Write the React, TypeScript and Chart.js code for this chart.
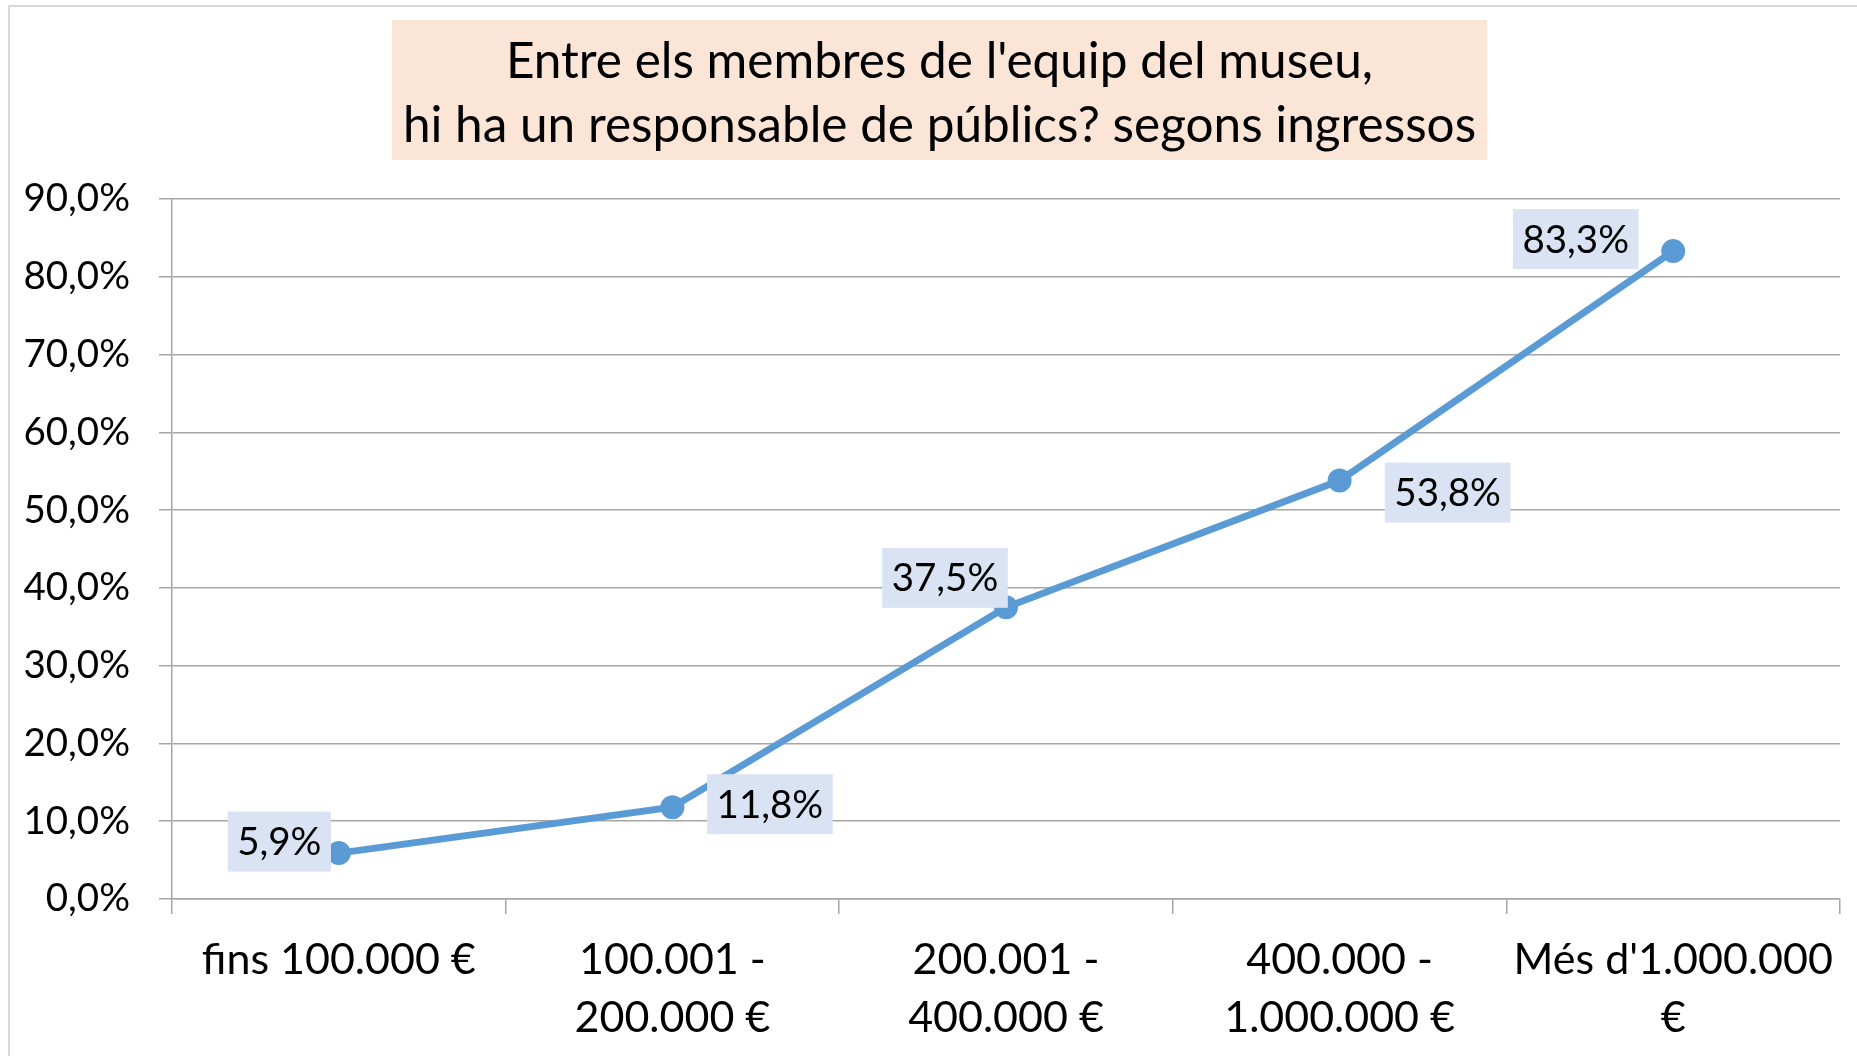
import { useEffect, useRef } from "react";
import { Chart, registerables } from "chart.js";

Chart.register(...registerables);

const categories: string[][] = [
  ["fins 100.000 €"],
  ["100.001 -", "200.000 €"],
  ["200.001 -", "400.000 €"],
  ["400.000 -", "1.000.000 €"],
  ["Més d'1.000.000", "€"],
];
const values: number[] = [5.9, 11.8, 37.5, 53.8, 83.3];
const titleLines: string[] = [
  "Entre els membres de l'equip del museu,",
  "hi ha un responsable de públics? segons ingressos",
];
const yMin = 0;
const yMax = 90;
const yStep = 10;

// label placement (relative to the point, in px)
const labelOffsets: number[][] = [
  [-59.5, -11.5],
  [97.5, -3],
  [-61, -29.5],
  [108, 12],
  [-97.5, -12],
];

const FONT = "Lato, 'Open Sans', sans-serif";
const FS = 38.5;
const FS_X = 43;
const FS_TITLE = 49.5;
const LINE_COLOR = "#5B9BD5";
const GRID = "#A6A6A6";

const fmt = (v: number) => v.toFixed(1).replace(".", ",") + "%";

const W = 1857;
const H = 1056;

const framePlugin = {
  id: "frame",
  beforeDraw(chart: any) {
    const ctx = chart.ctx;
    ctx.save();
    ctx.fillStyle = "#ffffff";
    ctx.fillRect(0, 0, W, H);
    ctx.strokeStyle = "#D9D9D9";
    ctx.lineWidth = 2;
    ctx.beginPath();
    ctx.moveTo(9, H + 10);
    ctx.lineTo(9, 6);
    ctx.lineTo(W + 10, 6);
    ctx.stroke();
    // title box
    ctx.fillStyle = "#FBE5D6";
    ctx.fillRect(392, 20, 1095, 140);
    ctx.fillStyle = "#000000";
    ctx.font = `${FS_TITLE}px ${FONT}`;
    ctx.textAlign = "center";
    ctx.textBaseline = "middle";
    const cx = 392 + 1095 / 2;
    ctx.fillText(titleLines[0], cx, 62);
    ctx.fillText(titleLines[1], cx, 126);
    ctx.restore();
  },
};

const labelPlugin = {
  id: "pointLabels",
  afterDatasetsDraw(chart: any) {
    const ctx = chart.ctx;
    const meta = chart.getDatasetMeta(0);
    ctx.save();
    ctx.font = `${FS}px ${FONT}`;
    ctx.textAlign = "center";
    ctx.textBaseline = "middle";
    meta.data.forEach((pt: any, i: number) => {
      const txt = fmt(values[i]);
      const tw = ctx.measureText(txt).width;
      const bw = tw + 19;
      const bh = 60;
      const cx = pt.x + labelOffsets[i][0];
      const cy = pt.y + labelOffsets[i][1];
      ctx.fillStyle = "#DAE3F3";
      ctx.fillRect(cx - bw / 2, cy - bh / 2, bw, bh);
      ctx.fillStyle = "#000000";
      ctx.fillText(txt, cx, cy + 1);
    });
    ctx.restore();
  },
};

export default function App() {
  const ref = useRef<HTMLCanvasElement | null>(null);

  useEffect(() => {
    if (!ref.current) return;
    const chart = new Chart(ref.current, {
      type: "line",
      data: {
        labels: categories,
        datasets: [
          {
            data: values,
            borderColor: LINE_COLOR,
            backgroundColor: LINE_COLOR,
            borderWidth: 7,
            pointRadius: 12,
            pointHoverRadius: 12,
            pointBorderWidth: 0,
            pointBackgroundColor: LINE_COLOR,
            tension: 0,
            fill: false,
          },
        ],
      },
      options: {
        animation: false,
        responsive: false,
        devicePixelRatio: 1,
        events: [],
        layout: { padding: { top: 199, left: 0, right: 17, bottom: 0 } },
        plugins: {
          legend: { display: false },
          title: { display: false },
          tooltip: { enabled: false },
        },
        scales: {
          x: {
            type: "category",
            offset: true,
            grid: {
              offset: true,
              drawOnChartArea: false,
              drawTicks: true,
              tickLength: 15,
              color: GRID,
              lineWidth: 1.5,
            },
            border: { display: true, color: GRID, width: 1.5 },
            ticks: {
              autoSkip: false,
              maxRotation: 0,
              minRotation: 0,
              padding: 17,
              color: "#000000",
              font: { family: FONT, size: FS_X, lineHeight: 58 / FS_X },
            },
            afterFit(scale: any) {
              scale.height = H - 899;
            },
          },
          y: {
            min: yMin,
            max: yMax,
            ticks: {
              stepSize: yStep,
              padding: 29,
              color: "#000000",
              font: { family: FONT, size: FS },
              callback: (v: any) => fmt(Number(v)),
            },
            grid: {
              color: GRID,
              lineWidth: 1.5,
              drawTicks: true,
              tickLength: 13,
            },
            border: { display: true, color: GRID, width: 1.5 },
            afterFit(scale: any) {
              scale.width = 172;
            },
          },
        },
      },
      plugins: [framePlugin, labelPlugin],
    });
    return () => chart.destroy();
  }, []);

  return (
    <div style={{ position: "fixed", left: 0, top: 0, width: W, height: H, background: "#fff" }}>
      <canvas ref={ref} width={W} height={H} style={{ display: "block", width: W, height: H }} />
    </div>
  );
}
